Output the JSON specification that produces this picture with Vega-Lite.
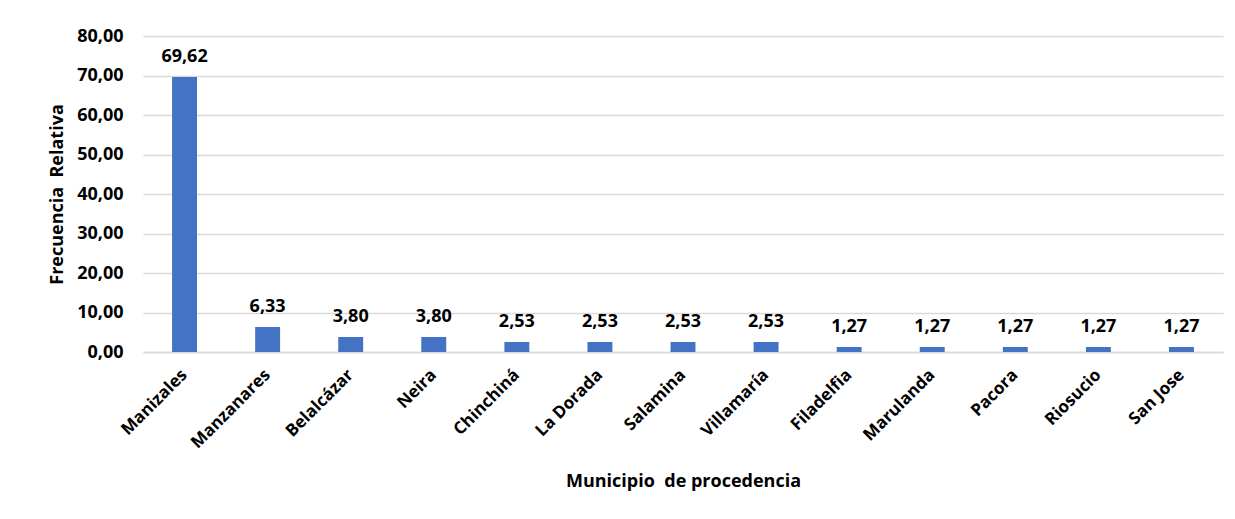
{
  "$schema": "https://vega.github.io/schema/vega-lite/v6.json",
  "width": 1080,
  "height": 316,
  "autosize": {"type": "none"},
  "padding": {"left": 143, "top": 36, "right": 12, "bottom": 167},
  "background": "white",
  "config": {
    "locale": {"number": {"decimal": ",", "thousands": ".", "grouping": [3], "currency": ["", ""]}},
    "view": {"stroke": null},
    "font": "Open Sans"
  },
  "data": {
    "values": [
      {"municipio": "Manizales", "valor": 69.62},
      {"municipio": "Manzanares", "valor": 6.33},
      {"municipio": "Belalcázar", "valor": 3.80},
      {"municipio": "Neira", "valor": 3.80},
      {"municipio": "Chinchiná", "valor": 2.53},
      {"municipio": "La Dorada", "valor": 2.53},
      {"municipio": "Salamina", "valor": 2.53},
      {"municipio": "Villamaría", "valor": 2.53},
      {"municipio": "Filadelfia", "valor": 1.27},
      {"municipio": "Marulanda", "valor": 1.27},
      {"municipio": "Pacora", "valor": 1.27},
      {"municipio": "Riosucio", "valor": 1.27},
      {"municipio": "San Jose", "valor": 1.27}
    ]
  },
  "encoding": {
    "x": {
      "field": "municipio",
      "type": "nominal",
      "sort": null,
      "scale": {"paddingInner": 0.7, "paddingOuter": 0.35},
      "axis": {
        "title": "Municipio\u00a0 de procedencia",
        "titleFont": "Open Sans",
        "titleFontSize": 18,
        "titleFontWeight": "bold",
        "titleColor": "#000000",
        "titlePadding": 22,
        "labelAngle": -45,
        "labelAlign": "right",
        "labelBaseline": "middle",
        "labelFont": "Open Sans",
        "labelFontSize": 17,
        "labelFontWeight": "bold",
        "labelColor": "#000000",
        "labelPadding": 20,
        "ticks": false,
        "domainColor": "#d9d9d9",
        "domainWidth": 1.5
      }
    },
    "y": {
      "field": "valor",
      "type": "quantitative",
      "scale": {"domain": [0, 80]},
      "axis": {
        "title": "Frecuencia\u00a0 Relativa",
        "titleFont": "Open Sans",
        "titleFontSize": 18,
        "titleFontWeight": "bold",
        "titleColor": "#000000",
        "titlePadding": 10,
        "values": [0, 10, 20, 30, 40, 50, 60, 70, 80],
        "format": ".2f",
        "labelFont": "Open Sans",
        "labelFontSize": 18,
        "labelFontWeight": "bold",
        "labelColor": "#000000",
        "labelPadding": 20,
        "ticks": false,
        "domain": false,
        "grid": true,
        "gridColor": "#d9d9d9",
        "gridWidth": 1.5
      }
    }
  },
  "layer": [
    {"mark": {"type": "bar", "color": "#4472C4"}},
    {
      "mark": {"type": "text", "baseline": "alphabetic", "dy": -15, "font": "Open Sans", "fontSize": 18, "fontWeight": "bold", "color": "#000000"},
      "encoding": {"text": {"field": "valor", "type": "quantitative", "format": ".2f"}}
    }
  ]
}
